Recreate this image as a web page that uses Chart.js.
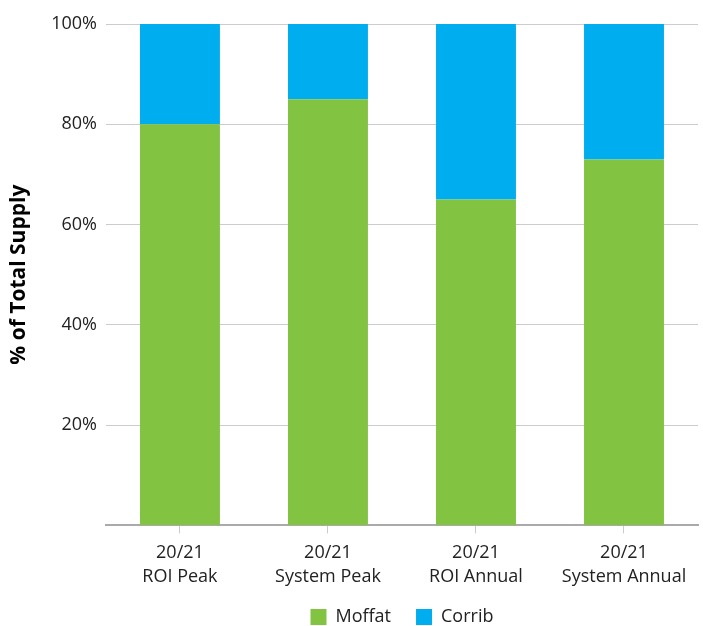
<!DOCTYPE html>
<html>
<head>
<meta charset="utf-8">
<script src="https://cdn.jsdelivr.net/npm/chart.js@4/dist/chart.umd.min.js"></script>
<style>
  html, body { margin: 0; padding: 0; background: #fff; }
  #wrap { width: 703px; height: 626px; }
</style>
</head>
<body>
<div id="wrap"><canvas id="myChart"></canvas></div>
<script>
// chart data
const categories = [['20/21', 'ROI Peak'], ['20/21', 'System Peak'], ['20/21', 'ROI Annual'], ['20/21', 'System Annual']];
const moffat = [80, 85, 65, 73];
const corrib = [20, 15, 35, 27];
const yTicks = [0, 20, 40, 60, 80, 100];

Chart.defaults.font.family = "'Open Sans', sans-serif";
Chart.defaults.color = '#222';

// center the legend under the plot area and pull it up a bit
const legendShift = {
  id: 'legendShift',
  afterLayout(chart) {
    const lg = chart.legend;
    lg.left = chart.chartArea.left;
    lg.right = chart.chartArea.right;
    lg.top -= 13;
    lg.bottom -= 13;
  }
};

const ctx = document.getElementById('myChart');
const myChart = new Chart(ctx, {
  type: 'bar',
  data: {
    labels: categories,
    datasets: [
      { label: 'Moffat', data: moffat, backgroundColor: '#82c341' },
      { label: 'Corrib', data: corrib, backgroundColor: '#00adee' }
    ]
  },
  options: {
    responsive: true,
    maintainAspectRatio: false,
    animation: false,
    layout: { padding: { top: 24, right: 5, left: 6, bottom: -23 } },
    datasets: { bar: { categoryPercentage: 1, barPercentage: 0.54 } },
    plugins: {
      tooltip: { enabled: false },
      legend: {
        position: 'bottom',
        labels: { boxWidth: 16, boxHeight: 16, padding: 25, font: { size: 18 } }
      }
    },
    scales: {
      x: {
        stacked: true,
        border: { color: '#aaa', width: 2 },
        grid: { drawOnChartArea: false, drawTicks: true, tickLength: 8, offset: false, color: '#ccc' },
        ticks: { font: { size: 18, lineHeight: 1.35 }, padding: 7, maxRotation: 0 }
      },
      y: {
        stacked: true,
        min: 0,
        max: 100,
        afterBuildTicks: (axis) => { axis.ticks = yTicks.map(v => ({ value: v })); },
        border: { display: false },
        grid: { color: '#ccc', drawTicks: false },
        ticks: {
          font: { size: 18 },
          padding: 9,
          callback: (v) => v === 0 ? '' : v + '%'
        },
        title: {
          display: true,
          text: '% of Total Supply',
          font: { size: 21, weight: 'bold' },
          color: '#000',
          padding: { top: 0, bottom: 11 }
        }
      }
    }
  },
  plugins: [legendShift]
});
</script>
</body>
</html>
